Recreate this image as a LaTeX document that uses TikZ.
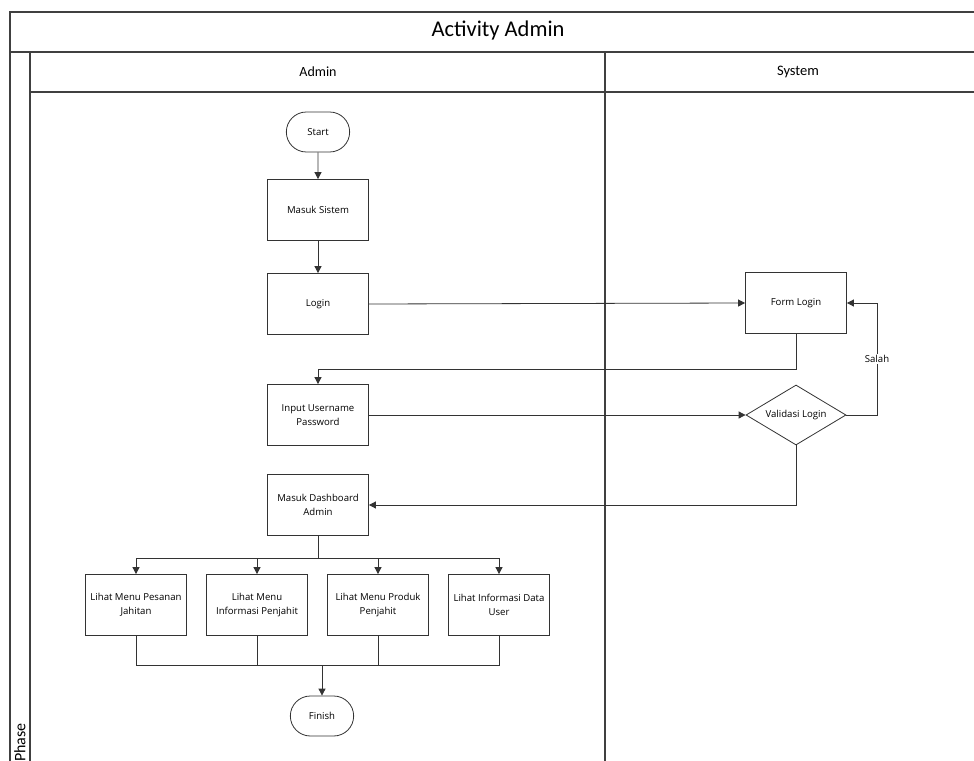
\documentclass[tikz,border=0pt]{standalone}
\usepackage{fontspec}
\setmainfont{Carlito}
\newfontfamily\nodefont{Open Sans}
\usetikzlibrary{shapes.geometric,shapes.misc,arrows.meta}
\begin{document}
\begin{tikzpicture}[x=1pt,y=-1pt,
  frame/.style={line width=1.3pt,draw=black!75},
  flow/.style={line width=0.8pt,draw=black!80,-{Triangle[length=7pt,width=7pt]}},
  plain/.style={line width=0.8pt,draw=black!80},
  lbl/.style={font=\nodefont\fontsize{9.6}{14}\selectfont},
  actbox/.style={lbl,draw=black!80,line width=0.8pt,minimum width=101pt,minimum height=61pt,
    align=center,inner sep=1pt},
  term/.style={lbl,draw=black!80,line width=0.8pt,rounded rectangle,minimum width=70pt,minimum height=40pt},
  decision/.style={lbl,draw=black!80,line width=0.8pt,diamond,aspect=1.667,minimum width=100pt,minimum height=60pt,
    inner sep=0pt},
]
\useasboundingbox (0,0) rectangle (974,760);
\fill[white] (0,0) rectangle (974,760);
\begin{scope}
\clip (0,0) rectangle (974,760);
% pool frame and swimlanes
\draw[frame] (980,12) -- (10,12) -- (10,770);
\draw[frame] (10,52) -- (980,52);
\draw[frame] (30,52) -- (30,770);
\draw[frame] (30,92) -- (980,92);
\draw[frame] (605,52) -- (605,770);
\node[font=\fontsize{22.5}{26}\selectfont] (title) at (498,31) {Activity Admin};
\node[font=\fontsize{14}{17}\selectfont] (laneA) at (318,72) {Admin};
\node[font=\fontsize{14.5}{17}\selectfont] (laneS) at (798,72) {System};
\node[rotate=90,anchor=east,font=\fontsize{16}{18}\selectfont,inner sep=0pt] (phase) at (20,723) {Phase};

% admin lane
\node[term] (start) at (318,132) {Start};
\node[actbox] (masuk) at (318,210) {Masuk Sistem};
\node[actbox] (login) at (318,304) {Login};
\node[actbox] (input) at (318,415) {Input Username\\Password};
\node[actbox] (dash) at (318,505) {Masuk Dashboard\\Admin};
\node[actbox] (m1) at (136,605) {Lihat Menu Pesanan\\Jahitan};
\node[actbox] (m2) at (257,605) {Lihat Menu\\Informasi Penjahit};
\node[actbox] (m3) at (378,605) {Lihat Menu Produk\\Penjahit};
\node[actbox] (m4) at (499,605) {Lihat Informasi Data\\User};
\node[term] (finish) at (322,716) {Finish};

% system lane
\node[actbox] (form) at (796,303) {Form Login};
\node[decision] (valid) at (796,415) {Validasi Login};

% connectors
\coordinate (split) at (318,558);
\coordinate (merge) at (322,665);
\draw[flow] (start) -- (masuk);
\draw[flow] (masuk) -- (login);
\draw[flow] (login.east) -- (form.west);
\draw[flow] (form.south) |- (318,369) -- (input.north);
\draw[flow] (input.east) -- (valid.west);
\draw[flow] (valid.east) -- (877,415) |- node[pos=0.25,fill=white,inner sep=1pt,lbl] (salah) {Salah} (form.east);
\draw[flow] (valid.south) |- (dash.east);
\draw[plain] (dash.south) -- (split);
\draw[flow] (split) -| (m1.north);
\draw[flow] (split) -| (m2.north);
\draw[flow] (split) -| (m3.north);
\draw[flow] (split) -| (m4.north);
\draw[plain] (m1.south) |- (merge);
\draw[plain] (m2.south) |- (merge);
\draw[plain] (m3.south) |- (merge);
\draw[plain] (m4.south) |- (merge);
\draw[flow] (merge) -- (finish.north);
\end{scope}
\end{tikzpicture}
\end{document}
